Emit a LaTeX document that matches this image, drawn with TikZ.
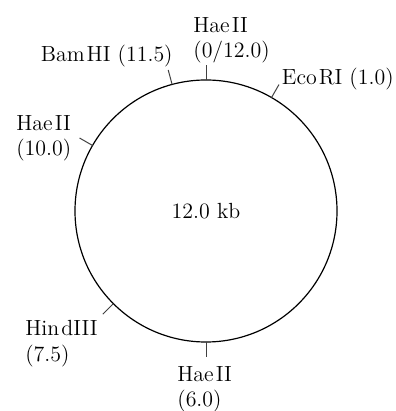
\documentclass[tikz,border=0pt]{standalone}
\usepackage{tikz}

\begin{document}
\begin{tikzpicture}[x=0.5bp, y=0.5bp, every node/.style={font=\fontsize{11}{12.8}\selectfont},
	site/.style={inner sep=0pt, align=left},
	cut/.style={black!75, line width=0.5pt}]
	\useasboundingbox (-206,-200) rectangle (190,211);
	\node[circle, draw, line width=0.6pt, minimum size=131bp, inner sep=0pt, outer sep=0pt] (plasmid) at (0,0) {12.0 kb};
	% tick ends, 1 kb = 30 degrees clockwise from the top
	\coordinate (c0) at (90:146);
	\coordinate (c1) at (60:146);
	\coordinate (c115) at (105:146);
	\coordinate (c10) at (150:146);
	\coordinate (c75) at (225:146);
	\coordinate (c6) at (270:146);
	\draw[cut] (plasmid.90) -- (c0);
	\draw[cut] (plasmid.60) -- (c1);
	\draw[cut] (plasmid.105) -- (c115);
	\draw[cut] (plasmid.150) -- (c10);
	\draw[cut] (plasmid.225) -- (c75);
	\draw[cut] (plasmid.270) -- (c6);
	% site labels
	\node[site, anchor=north west] (hae0) at (-13,194) {Hae\kern1bp II\\(0/12.0)};
	\node[site, anchor=base east] (bam) at (-33,149) {Bam\kern1bp HI (11.5)};
	\node[site, anchor=base east] (eco) at (188,126) {Eco\kern1bp RI (1.0)};
	\node[site, anchor=north west] (hae10) at (-190,96) {Hae\kern1bp II\\(10.0)};
	\node[site, anchor=north west] (hind) at (-181,-109) {Hin\kern1bp dIII\\(7.5)};
	\node[site, anchor=north west] (hae6) at (-29,-155) {Hae\kern1bp II\\(6.0)};
\end{tikzpicture}
\end{document}
